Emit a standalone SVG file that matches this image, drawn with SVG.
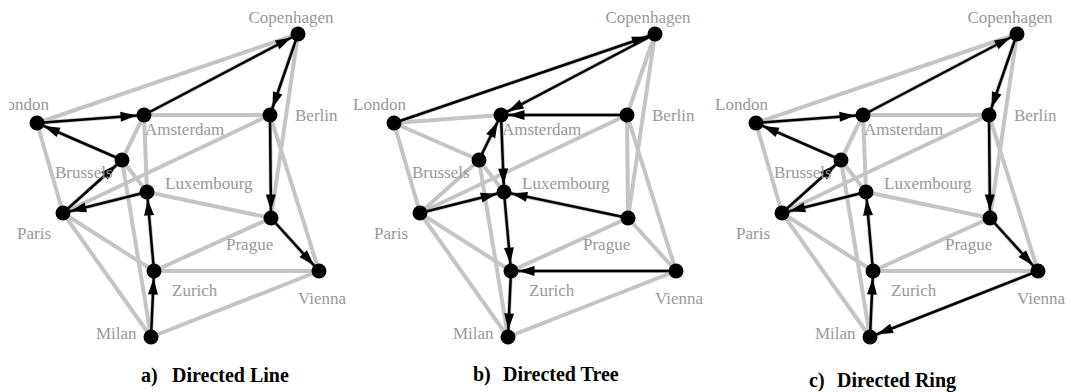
<svg xmlns="http://www.w3.org/2000/svg" width="1071" height="392" viewBox="0 0 1071 392">
  <style>
    .edge { stroke: #c4c4c4; stroke-width: 4; stroke-linecap: round; fill: none; }
    .arc { stroke: #000; stroke-width: 2.5; fill: none; marker-end: url(#arrow); }
    .node circle { fill: #000; }
    .lbl { font-family: "Liberation Serif", "Times New Roman", serif; font-size: 17px; fill: #999; }
    .cap { font-family: "Liberation Serif", "Times New Roman", serif; font-size: 20px; font-weight: bold; fill: #000; }
  </style>
  <defs>
    <!-- arrowhead: tip sits 7.5 units short of the path end (the node radius) -->
    <marker id="arrow" markerUnits="userSpaceOnUse" markerWidth="24" markerHeight="10" refX="23.5" refY="5" orient="auto" overflow="visible">
      <path d="M0,0 L16,5 L0,10 Z" fill="#000"/>
    </marker>
    <clipPath id="clipLeft">
      <rect x="9" y="0" width="400" height="392"/>
    </clipPath>
    <!-- the shared road network -->
    <g id="network" class="edge">
      <line x1="37" y1="123" x2="298" y2="34"/>
      <line x1="37" y1="123" x2="144" y2="115"/>
      <line x1="37" y1="123" x2="122" y2="160"/>
      <line x1="37" y1="123" x2="63" y2="213"/>
      <line x1="144" y1="115" x2="298" y2="34"/>
      <line x1="144" y1="115" x2="270" y2="115"/>
      <line x1="144" y1="115" x2="122" y2="160"/>
      <line x1="144" y1="115" x2="147" y2="192"/>
      <line x1="298" y1="34" x2="270" y2="115"/>
      <line x1="298" y1="34" x2="271" y2="218"/>
      <line x1="270" y1="115" x2="63" y2="213"/>
      <line x1="270" y1="115" x2="271" y2="218"/>
      <line x1="270" y1="115" x2="319" y2="271"/>
      <line x1="122" y1="160" x2="63" y2="213"/>
      <line x1="122" y1="160" x2="147" y2="192"/>
      <line x1="122" y1="160" x2="151" y2="337"/>
      <line x1="147" y1="192" x2="63" y2="213"/>
      <line x1="147" y1="192" x2="271" y2="218"/>
      <line x1="147" y1="192" x2="154" y2="271"/>
      <line x1="63" y1="213" x2="154" y2="271"/>
      <line x1="63" y1="213" x2="151" y2="337"/>
      <line x1="271" y1="218" x2="154" y2="271"/>
      <line x1="271" y1="218" x2="319" y2="271"/>
      <line x1="154" y1="271" x2="319" y2="271"/>
      <line x1="154" y1="271" x2="151" y2="337"/>
      <line x1="151" y1="337" x2="319" y2="271"/>
    </g>
    <!-- city markers -->
    <g id="cities" class="node">
      <circle cx="298" cy="34" r="7.5"/>
      <circle cx="37" cy="123" r="7.5"/>
      <circle cx="144" cy="115" r="7.5"/>
      <circle cx="270" cy="115" r="7.5"/>
      <circle cx="122" cy="160" r="7.5"/>
      <circle cx="147" cy="192" r="7.5"/>
      <circle cx="63" cy="213" r="7.5"/>
      <circle cx="271" cy="218" r="7.5"/>
      <circle cx="154" cy="271" r="7.5"/>
      <circle cx="319" cy="271" r="7.5"/>
      <circle cx="151" cy="337" r="7.5"/>
    </g>
  </defs>

  <!-- ===== a) Directed Line ===== -->
  <g id="panel-a">
    <use href="#network"/>
    <g id="a-connectors">
      <line class="arc" x1="151" y1="337" x2="154" y2="271"/>
      <line class="arc" x1="154" y1="271" x2="147" y2="192"/>
      <line class="arc" x1="147" y1="192" x2="63" y2="213"/>
      <line class="arc" x1="63" y1="213" x2="122" y2="160"/>
      <line class="arc" x1="122" y1="160" x2="37" y2="123"/>
      <line class="arc" x1="37" y1="123" x2="144" y2="115"/>
      <line class="arc" x1="144" y1="115" x2="298" y2="34"/>
      <line class="arc" x1="298" y1="34" x2="270" y2="115"/>
      <line class="arc" x1="270" y1="115" x2="271" y2="218"/>
      <line class="arc" x1="271" y1="218" x2="319" y2="271"/>
    </g>
    <g id="a-copenhagen" class="node"><circle cx="298" cy="34" r="7.5"/><text class="lbl" x="291" y="23" text-anchor="middle">Copenhagen</text></g>
    <g id="a-london" class="node"><circle cx="37" cy="123" r="7.5"/><text class="lbl" x="-4" y="110" clip-path="url(#clipLeft)">London</text></g>
    <g id="a-amsterdam" class="node"><circle cx="144" cy="115" r="7.5"/><text class="lbl" x="145" y="135">Amsterdam</text></g>
    <g id="a-berlin" class="node"><circle cx="270" cy="115" r="7.5"/><text class="lbl" x="295" y="121">Berlin</text></g>
    <g id="a-brussels" class="node"><text class="lbl" x="55" y="178">Brussels</text><circle cx="122" cy="160" r="7.5"/></g>
    <g id="a-luxembourg" class="node"><circle cx="147" cy="192" r="7.5"/><text class="lbl" x="165" y="189">Luxembourg</text></g>
    <g id="a-paris" class="node"><circle cx="63" cy="213" r="7.5"/><text class="lbl" x="17" y="239">Paris</text></g>
    <g id="a-prague" class="node"><circle cx="271" cy="218" r="7.5"/><text class="lbl" x="226" y="250">Prague</text></g>
    <g id="a-zurich" class="node"><circle cx="154" cy="271" r="7.5"/><text class="lbl" x="172" y="296">Zurich</text></g>
    <g id="a-vienna" class="node"><circle cx="319" cy="271" r="7.5"/><text class="lbl" x="298" y="304">Vienna</text></g>
    <g id="a-milan" class="node"><circle cx="151" cy="337" r="7.5"/><text class="lbl" x="96" y="339">Milan</text></g>
    <text class="cap" x="141" y="382">a)</text>
    <text class="cap" x="172" y="382">Directed Line</text>
  </g>

  <!-- ===== b) Directed Tree ===== -->
  <g id="panel-b" transform="translate(357,0)">
    <use href="#network"/>
    <g id="b-connectors">
      <line class="arc" x1="37" y1="123" x2="298" y2="34"/>
      <line class="arc" x1="298" y1="34" x2="144" y2="115"/>
      <line class="arc" x1="270" y1="115" x2="144" y2="115"/>
      <line class="arc" x1="122" y1="160" x2="144" y2="115"/>
      <line class="arc" x1="144" y1="115" x2="147" y2="192"/>
      <line class="arc" x1="63" y1="213" x2="147" y2="192"/>
      <line class="arc" x1="271" y1="218" x2="147" y2="192"/>
      <line class="arc" x1="147" y1="192" x2="154" y2="271"/>
      <line class="arc" x1="319" y1="271" x2="154" y2="271"/>
      <line class="arc" x1="154" y1="271" x2="151" y2="337"/>
    </g>
    <g id="b-copenhagen" class="node"><circle cx="298" cy="34" r="7.5"/><text class="lbl" x="291" y="23" text-anchor="middle">Copenhagen</text></g>
    <g id="b-london" class="node"><circle cx="37" cy="123" r="7.5"/><text class="lbl" x="-4" y="110">London</text></g>
    <g id="b-amsterdam" class="node"><circle cx="144" cy="115" r="7.5"/><text class="lbl" x="145" y="135">Amsterdam</text></g>
    <g id="b-berlin" class="node"><circle cx="270" cy="115" r="7.5"/><text class="lbl" x="295" y="121">Berlin</text></g>
    <g id="b-brussels" class="node"><text class="lbl" x="55" y="178">Brussels</text><circle cx="122" cy="160" r="7.5"/></g>
    <g id="b-luxembourg" class="node"><circle cx="147" cy="192" r="7.5"/><text class="lbl" x="165" y="189">Luxembourg</text></g>
    <g id="b-paris" class="node"><circle cx="63" cy="213" r="7.5"/><text class="lbl" x="17" y="239">Paris</text></g>
    <g id="b-prague" class="node"><circle cx="271" cy="218" r="7.5"/><text class="lbl" x="226" y="250">Prague</text></g>
    <g id="b-zurich" class="node"><circle cx="154" cy="271" r="7.5"/><text class="lbl" x="172" y="296">Zurich</text></g>
    <g id="b-vienna" class="node"><circle cx="319" cy="271" r="7.5"/><text class="lbl" x="298" y="304">Vienna</text></g>
    <g id="b-milan" class="node"><circle cx="151" cy="337" r="7.5"/><text class="lbl" x="96" y="339">Milan</text></g>
    <text class="cap" x="116" y="381">b)</text>
    <text class="cap" x="146" y="381">Directed Tree</text>
  </g>

  <!-- ===== c) Directed Ring ===== -->
  <g id="panel-c" transform="translate(719,0)">
    <use href="#network"/>
    <g id="c-connectors">
      <line class="arc" x1="151" y1="337" x2="154" y2="271"/>
      <line class="arc" x1="154" y1="271" x2="147" y2="192"/>
      <line class="arc" x1="147" y1="192" x2="63" y2="213"/>
      <line class="arc" x1="63" y1="213" x2="122" y2="160"/>
      <line class="arc" x1="122" y1="160" x2="37" y2="123"/>
      <line class="arc" x1="37" y1="123" x2="144" y2="115"/>
      <line class="arc" x1="144" y1="115" x2="298" y2="34"/>
      <line class="arc" x1="298" y1="34" x2="270" y2="115"/>
      <line class="arc" x1="270" y1="115" x2="271" y2="218"/>
      <line class="arc" x1="271" y1="218" x2="319" y2="271"/>
      <line class="arc" x1="319" y1="271" x2="151" y2="337"/>
    </g>
    <g id="c-copenhagen" class="node"><circle cx="298" cy="34" r="7.5"/><text class="lbl" x="291" y="23" text-anchor="middle">Copenhagen</text></g>
    <g id="c-london" class="node"><circle cx="37" cy="123" r="7.5"/><text class="lbl" x="-4" y="110">London</text></g>
    <g id="c-amsterdam" class="node"><circle cx="144" cy="115" r="7.5"/><text class="lbl" x="145" y="135">Amsterdam</text></g>
    <g id="c-berlin" class="node"><circle cx="270" cy="115" r="7.5"/><text class="lbl" x="295" y="121">Berlin</text></g>
    <g id="c-brussels" class="node"><text class="lbl" x="55" y="178">Brussels</text><circle cx="122" cy="160" r="7.5"/></g>
    <g id="c-luxembourg" class="node"><circle cx="147" cy="192" r="7.5"/><text class="lbl" x="165" y="189">Luxembourg</text></g>
    <g id="c-paris" class="node"><circle cx="63" cy="213" r="7.5"/><text class="lbl" x="17" y="239">Paris</text></g>
    <g id="c-prague" class="node"><circle cx="271" cy="218" r="7.5"/><text class="lbl" x="226" y="250">Prague</text></g>
    <g id="c-zurich" class="node"><circle cx="154" cy="271" r="7.5"/><text class="lbl" x="172" y="296">Zurich</text></g>
    <g id="c-vienna" class="node"><circle cx="319" cy="271" r="7.5"/><text class="lbl" x="298" y="304">Vienna</text></g>
    <g id="c-milan" class="node"><circle cx="151" cy="337" r="7.5"/><text class="lbl" x="96" y="339">Milan</text></g>
    <text class="cap" x="90" y="387">c)</text>
    <text class="cap" x="118" y="387">Directed Ring</text>
  </g>
</svg>
